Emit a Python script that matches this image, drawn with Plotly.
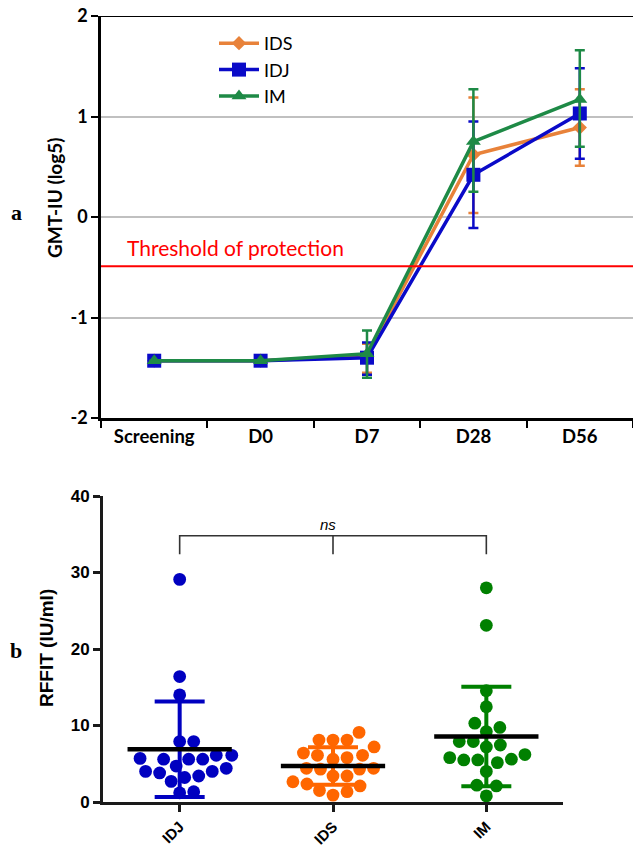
import plotly.graph_objects as go
import numpy as np

# ---------------- Panel a data ----------------
timepoints = ["Screening", "D0", "D7", "D28", "D56"]
groups_a = ["IDS", "IDJ", "IM"]
gmt_ids = [-1.43, -1.43, -1.38, 0.62, 0.89]
gmt_idj = [-1.43, -1.43, -1.40, 0.42, 1.03]
gmt_im = [-1.43, -1.43, -1.36, 0.75, 1.17]
upper_ids = [-1.43, -1.43, -1.26, 1.19, 1.27]
lower_ids = [-1.43, -1.43, -1.55, 0.04, 0.51]
upper_idj = [-1.43, -1.43, -1.25, 0.95, 1.48]
lower_idj = [-1.43, -1.43, -1.57, -0.11, 0.58]
upper_im = [-1.43, -1.43, -1.13, 1.27, 1.66]
lower_im = [-1.43, -1.43, -1.60, 0.25, 0.70]
threshold = -0.49
yticks_a = [-2, -1, 0, 1, 2]

# ---------------- Panel b data ----------------
groups_b = ["IDJ", "IDS", "IM"]
rffit_idj = [29.1, 16.4, 14.0, 7.9, 7.9, 6.1, 6.1, 5.6, 5.6, 5.6, 5.7, 4.4, 4.0,
             3.8, 4.0, 4.7, 3.4, 3.2, 2.7, 1.2, 1.35]
rffit_ids = [9.1, 8.1, 8.1, 8.1, 7.2, 6.4, 6.1, 6.1, 5.8, 5.6, 4.4, 4.3, 4.3, 4.4,
             3.4, 3.4, 2.35, 2.65, 1.5, 1.35, 2.1, 0.9]
rffit_im = [28.0, 23.1, 14.55, 12.45, 10.3, 9.75, 9.2, 7.9, 7.45, 7.9, 7.2, 5.8,
            5.5, 5.15, 5.6, 5.5, 6.2, 4.0, 2.2, 2.1, 0.8]
means_b = [6.9, 4.7, 8.55]
sds_b = [6.25, 2.45, 6.5]
yticks_b = [0, 10, 20, 30, 40]

W, H = 633, 849
colors_a = {"IDS": "#E8823A", "IDJ": "#0A0AC8", "IM": "#1E8A46"}
symbols_a = {"IDS": "diamond", "IDJ": "square", "IM": "triangle-up"}
msize_a = {"IDS": 11, "IDJ": 14, "IM": 13}
colors_b = ["#0000C0", "#FF6600", "#008000"]

# domains (paper fractions)
ax_x = [101 / W, 1.0]
ax_y = [1 - 418 / H, 1 - 16 / H]
bx_x = [103 / W, 563 / W]
bx_y = [1 - 802 / H, 1 - 496 / H]

fig = go.Figure()

# threshold line (drawn first, underneath)
fig.add_trace(go.Scatter(
    x=[-0.5, 4.5], y=[threshold, threshold], mode="lines",
    line=dict(color="#FF0000", width=2), xaxis="x2", yaxis="y",
    showlegend=False, hoverinfo="skip"))

series = {
    "IDS": (gmt_ids, upper_ids, lower_ids),
    "IDJ": (gmt_idj, upper_idj, lower_idj),
    "IM": (gmt_im, upper_im, lower_im),
}
for g in groups_a:
    vals, up, lo = series[g]
    ep = [u - v for u, v in zip(up, vals)]
    em = [v - l for v, l in zip(vals, lo)]
    fig.add_trace(go.Scatter(
        x=timepoints, y=vals, name=g, mode="lines+markers",
        line=dict(color=colors_a[g], width=3.5),
        marker=dict(symbol=symbols_a[g], size=msize_a[g], color=colors_a[g]),
        error_y=dict(type="data", symmetric=False, array=ep, arrayminus=em,
                     color=colors_a[g], thickness=2.5, width=5),
        xaxis="x", yaxis="y", showlegend=True,
    ))


# ---------- beeswarm offsets (computed) ----------
def beeswarm(values, px_per_x=153.0, px_per_y=7.65, diam=14.0):
    order = np.argsort(values)
    placed = []
    offs = np.zeros(len(values))
    for idx in order:
        y = values[idx] * px_per_y
        best = 0.0
        cands = []
        for s in np.arange(0, 80, 0.5):
            cands.append(s)
            if s > 0:
                cands.append(-s)
        for c in cands:
            ok = True
            for (px, py) in placed:
                if (c - px) ** 2 + (y - py) ** 2 < diam ** 2:
                    ok = False
                    break
            if ok:
                best = c
                break
        placed.append((best, y))
        offs[idx] = best / px_per_x
    return offs


data_b = [rffit_idj, rffit_ids, rffit_im]
for i, (g, vals) in enumerate(zip(groups_b, data_b)):
    vals = np.array(vals)
    offs = beeswarm(vals)
    fig.add_trace(go.Scatter(
        x=i + offs, y=vals, mode="markers",
        marker=dict(size=12.8, color=colors_b[i], line=dict(width=0)),
        xaxis="x3", yaxis="y3", showlegend=False, name=g))

for i, g in enumerate(groups_b):
    fig.add_trace(go.Scatter(
        x=[i], y=[means_b[i]], mode="markers",
        marker=dict(size=1, color="rgba(0,0,0,0)"),
        error_y=dict(type="data", array=[sds_b[i]], color=colors_b[i],
                     thickness=4, width=25),
        xaxis="x3", yaxis="y3", showlegend=False, hoverinfo="skip"))
    fig.add_trace(go.Scatter(
        x=[i - 0.34, i + 0.34], y=[means_b[i], means_b[i]], mode="lines",
        line=dict(color="black", width=4.5),
        xaxis="x3", yaxis="y3", showlegend=False, hoverinfo="skip"))

# significance bracket
bracket_top, bracket_leg = 34.8, 32.4
fig.add_trace(go.Scatter(
    x=[0, 0, 2, 2, None, 1, 1], y=[bracket_leg, bracket_top, bracket_top, bracket_leg, None, bracket_top, bracket_leg],
    mode="lines", line=dict(color="#333333", width=1.6),
    xaxis="x3", yaxis="y3", showlegend=False, hoverinfo="skip"))

fig.update_layout(
    width=W, height=H, margin=dict(l=0, r=0, t=0, b=0, autoexpand=False),
    paper_bgcolor="white", plot_bgcolor="white",
    xaxis=dict(domain=ax_x, anchor="y", type="category", range=[-0.5, 4.5],
               showline=True, linecolor="black", linewidth=2.5,
               ticks="outside", tickson="boundaries", ticklen=7, tickwidth=2,
               tickcolor="black", showgrid=False, automargin=False,
               tickfont=dict(family="Lato", size=18.5, color="black", weight="bold")),
    xaxis2=dict(domain=ax_x, anchor="y", overlaying="x", range=[-0.5, 4.5],
                visible=False),
    yaxis=dict(domain=ax_y, anchor="x", range=[-2, 2], tickvals=yticks_a,
               ticktext=[str(v) for v in yticks_a],
               showline=True, linecolor="black", linewidth=2.5,
               ticks="outside", ticklen=7, tickwidth=2, tickcolor="black",
               showgrid=True, gridcolor="#C0C0C0", gridwidth=1.5,
               zeroline=False, automargin=False,
               tickfont=dict(family="Lato", size=18, color="black", weight="bold")),
    xaxis3=dict(domain=bx_x, anchor="y3", range=[-0.5, 2.5],
                tickvals=[0, 1, 2], ticktext=groups_b, tickangle=-45,
                showline=True, linecolor="#1a1a1a", linewidth=3,
                ticks="outside", ticklen=7, tickwidth=2.5, tickcolor="#1a1a1a",
                showgrid=False, zeroline=False, automargin=False,
                tickfont=dict(family="Liberation Sans", size=15, color="black", weight="bold")),
    yaxis3=dict(domain=bx_y, anchor="x3", range=[0, 40], tickvals=yticks_b,
                showline=True, linecolor="#1a1a1a", linewidth=3,
                ticks="outside", ticklen=7, tickwidth=2.5, tickcolor="#1a1a1a",
                showgrid=False, zeroline=False, automargin=False,
                tickfont=dict(family="Liberation Sans Narrow, Liberation Sans", size=17, color="black", weight="bold")),
    legend=dict(x=214 / W, y=1 - 25 / H, xanchor="left", yanchor="top",
                bgcolor="rgba(0,0,0,0)", font=dict(family="Lato", size=18, color="black"),
                tracegroupgap=0, itemwidth=40),
)

# top frame line at y=2
fig.add_shape(type="line", xref="paper", yref="y", x0=ax_x[0], x1=1.0, y0=2, y1=2,
              line=dict(color="black", width=2))

annotations = [
    dict(text="Threshold of protection", xref="paper", yref="paper",
         x=125 / W, y=1 - 247 / H, xanchor="left", yanchor="middle", showarrow=False,
         font=dict(family="Lato", size=21, color="#FF0000")),
    dict(text="GMT-IU (log5)", xref="paper", yref="paper", x=54 / W, y=1 - 198 / H,
         textangle=-90, showarrow=False, xanchor="center", yanchor="middle",
         font=dict(family="Lato", size=19, color="black", weight="bold")),
    dict(text="a", xref="paper", yref="paper", x=16 / W, y=1 - 212 / H, showarrow=False,
         xanchor="center", yanchor="middle",
         font=dict(family="Liberation Serif", size=22, color="black", weight="bold")),
    dict(text="RFFIT (IU/ml)", xref="paper", yref="paper", x=46 / W, y=1 - 648 / H,
         textangle=-90, showarrow=False, xanchor="center", yanchor="middle",
         font=dict(family="Liberation Sans", size=19, color="black", weight="bold")),
    dict(text="b", xref="paper", yref="paper", x=16 / W, y=1 - 650 / H, showarrow=False,
         xanchor="center", yanchor="middle",
         font=dict(family="Liberation Serif", size=22, color="black", weight="bold")),
    dict(text="<i>ns</i>", xref="x3", yref="y3", x=0.97, y=36.3, showarrow=False,
         xanchor="center", yanchor="middle",
         font=dict(family="Liberation Sans", size=15, color="black")),
]
fig.update_layout(annotations=annotations)

fig.write_html("out.html")
